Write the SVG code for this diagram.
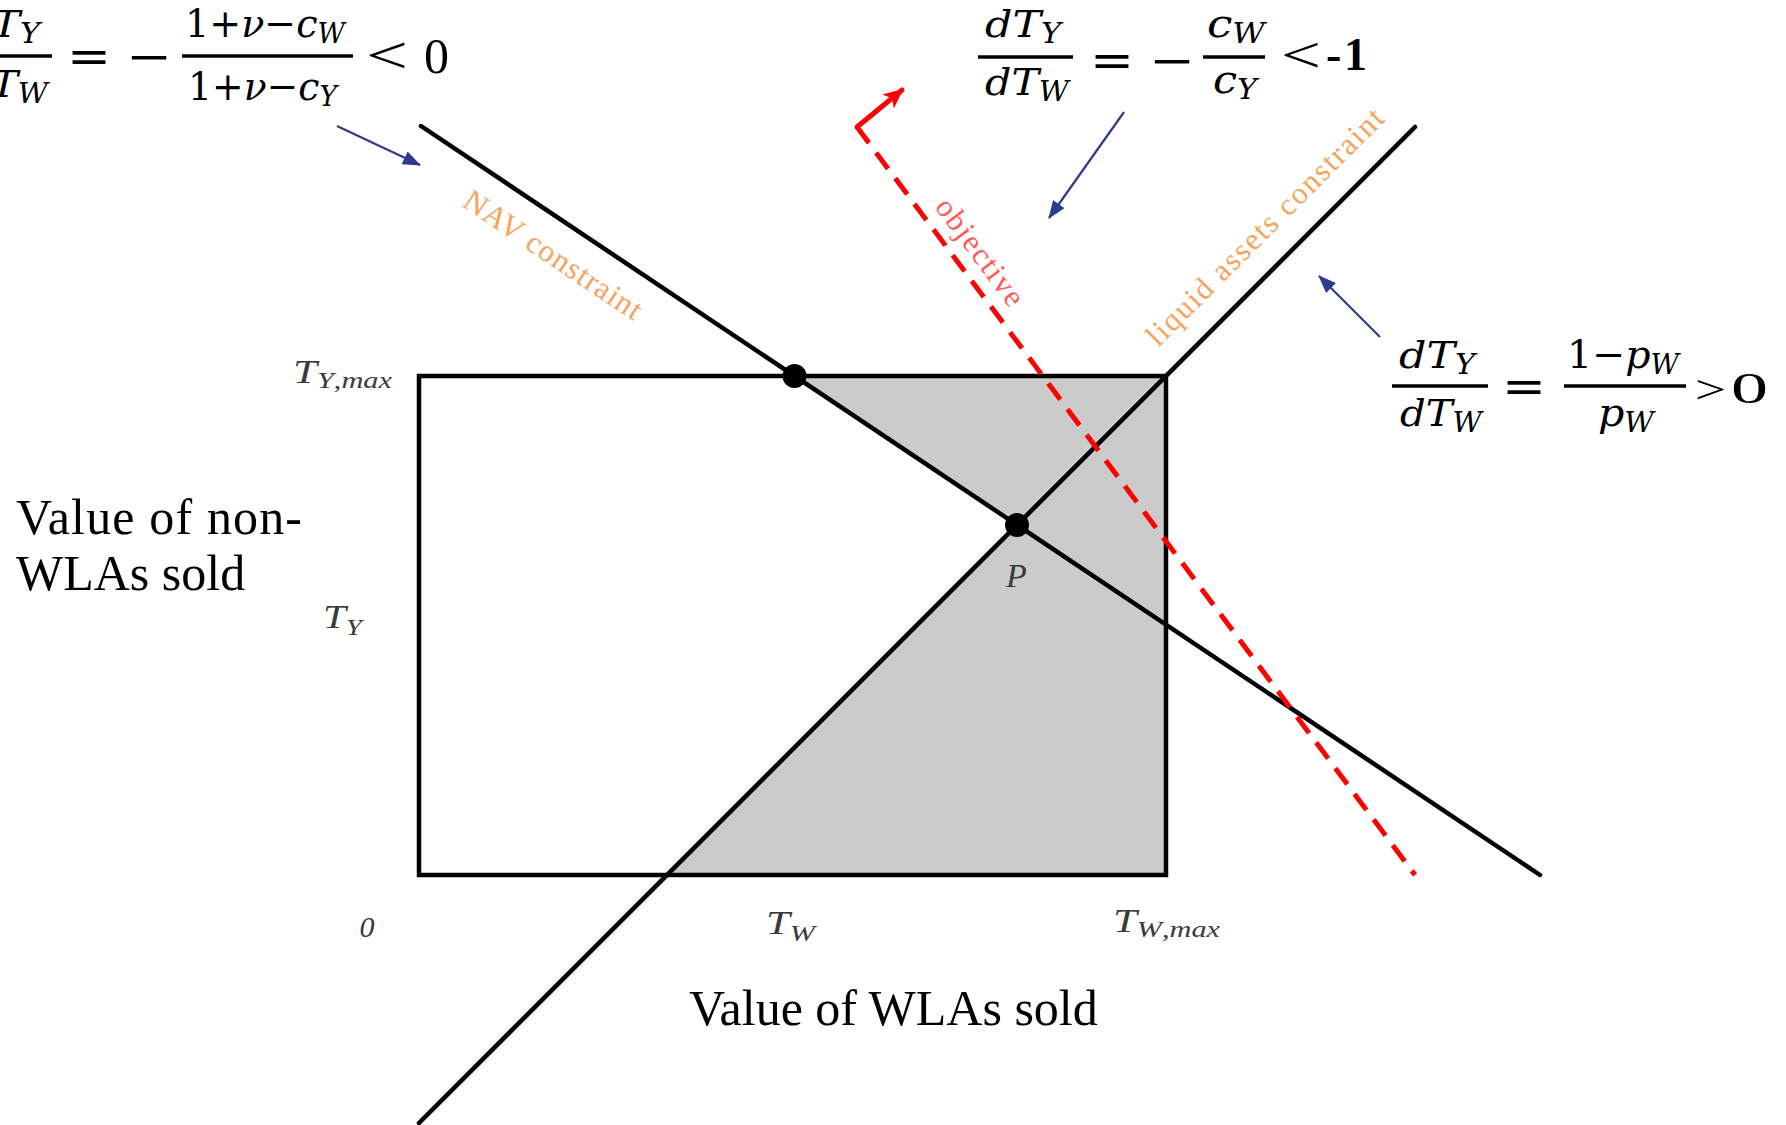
<svg xmlns="http://www.w3.org/2000/svg" width="1786" height="1125" viewBox="0 0 1786 1125">
<defs>
<style>
.ln{stroke:#000;stroke-width:4.5;fill:none;stroke-linecap:round}
.bar{stroke:#000;stroke-width:3.5}
.m{font-family:"DejaVu Serif","Liberation Serif",serif;font-style:italic;fill:#000}
.u{font-style:normal}
.op{font-family:"DejaVu Serif","Liberation Serif",serif;font-style:normal;fill:#000}
.ax{font-family:"Liberation Serif",serif;font-style:italic;fill:#3a3a3a}
.big{font-family:"Liberation Serif",serif;fill:#000;font-size:50px}
.or{font-family:"Liberation Serif",serif;fill:#F7A35C;font-size:31px}
.blue{stroke:#2E3A8C;stroke-width:2.2;fill:none;marker-end:url(#ab)}
</style>
<marker id="ab" markerUnits="userSpaceOnUse" markerWidth="20" markerHeight="14" refX="17" refY="7" orient="auto">
<path d="M0,0 L18,7 L0,14 Z" fill="#2E3A8C"/>
</marker>
<marker id="ar" markerUnits="userSpaceOnUse" markerWidth="22" markerHeight="20" refX="18" refY="10" orient="auto">
<path d="M0,1 L20,10 L0,19 L5,10 Z" fill="#FF0000"/>
</marker>
</defs>

<g id="feasible-region">
<polygon points="794.5,376 1166,376 1166,875 667,875 1017,525" fill="#CBCBCB"/>
<rect x="419" y="376" width="747" height="499" class="ln"/>
</g>

<g id="nav-constraint">
<line x1="421" y1="126" x2="1540" y2="875" class="ln"/>
<text class="or" transform="translate(553,255) rotate(33.8)" x="0" y="10" text-anchor="middle" textLength="208" lengthAdjust="spacing">NAV constraint</text>
</g>

<g id="liquid-assets-constraint">
<line x1="419" y1="1123" x2="1415" y2="127" class="ln"/>
<text class="or" transform="translate(1265,227) rotate(-45)" x="0" y="10" text-anchor="middle" textLength="322" lengthAdjust="spacing">liquid assets constraint</text>
</g>

<g id="objective">
<line x1="857" y1="127" x2="1415" y2="875" stroke="#FF0000" stroke-width="5" stroke-dasharray="20 12"/>
<line x1="857" y1="127" x2="902" y2="90" stroke="#FF0000" stroke-width="5" stroke-linecap="round" marker-end="url(#ar)"/>
<text font-family="Liberation Serif, serif" font-size="31" fill="#FF5A5A" transform="translate(980,252) rotate(53.3)" x="0" y="10" text-anchor="middle" textLength="127" lengthAdjust="spacing">objective</text>
</g>

<g id="points">
<circle cx="794.5" cy="376" r="12" fill="#000"/>
<circle cx="1017" cy="525" r="12" fill="#000"/>
<text class="ax" x="1006" y="587" font-size="34">P</text>
</g>

<g id="axis-labels">
<text class="ax" x="293" y="383" font-size="34" textLength="99" lengthAdjust="spacingAndGlyphs">T<tspan font-size="24" dy="5">Y</tspan><tspan font-size="24" font-style="normal">,</tspan><tspan font-size="24">max</tspan></text>
<text class="ax" x="323" y="628" font-size="34" textLength="39" lengthAdjust="spacingAndGlyphs">T<tspan font-size="24" dy="7">Y</tspan></text>
<text class="ax" x="367" y="937" font-size="30" font-style="normal" text-anchor="middle">0</text>
<text class="ax" x="766" y="934" font-size="34" textLength="49" lengthAdjust="spacingAndGlyphs">T<tspan font-size="24" dy="7">W</tspan></text>
<text class="ax" x="1113" y="932" font-size="34" textLength="107" lengthAdjust="spacingAndGlyphs">T<tspan font-size="24" dy="5">W</tspan><tspan font-size="24" font-style="normal">,</tspan><tspan font-size="24">max</tspan></text>
<text class="big" x="16" y="534" textLength="286" lengthAdjust="spacing">Value of non-</text>
<text class="big" x="16" y="590">WLAs sold</text>
<text class="big" x="689" y="1025">Value of WLAs sold</text>
</g>

<g id="eq-nav">
<line x1="-43" y1="56" x2="52" y2="56" class="bar"/>
<text class="m" x="-36" y="37" font-size="38" textLength="76" lengthAdjust="spacingAndGlyphs">dT<tspan font-size="27" dy="6">Y</tspan></text>
<text class="m" x="-36" y="97" font-size="38" textLength="84" lengthAdjust="spacingAndGlyphs">dT<tspan font-size="27" dy="6">W</tspan></text>
<text class="op" x="67" y="72" font-size="46" textLength="44" lengthAdjust="spacingAndGlyphs">=</text>
<text class="op" x="126" y="72" font-size="46" textLength="46" lengthAdjust="spacingAndGlyphs">−</text>
<line x1="182" y1="56" x2="353" y2="56" class="bar"/>
<text class="m" x="185" y="37" font-size="40" textLength="160" lengthAdjust="spacingAndGlyphs"><tspan class="u">1+</tspan>ν<tspan class="u">−</tspan>c<tspan font-size="28" dy="6">W</tspan></text>
<text class="m" x="188" y="100" font-size="40" textLength="149" lengthAdjust="spacingAndGlyphs"><tspan class="u">1+</tspan>ν<tspan class="u">−</tspan>c<tspan font-size="28" dy="6">Y</tspan></text>
<text font-family="Liberation Serif, serif" x="366" y="73" font-size="52" textLength="42" lengthAdjust="spacingAndGlyphs">&lt;</text>
<text font-family="Liberation Serif, serif" x="424" y="73" font-size="50">0</text>
</g>

<g id="eq-objective">
<line x1="978" y1="57" x2="1073" y2="57" class="bar"/>
<text class="m" x="985" y="37" font-size="38" textLength="76" lengthAdjust="spacingAndGlyphs">dT<tspan font-size="27" dy="6">Y</tspan></text>
<text class="m" x="985" y="95" font-size="38" textLength="84" lengthAdjust="spacingAndGlyphs">dT<tspan font-size="27" dy="6">W</tspan></text>
<text class="op" x="1090" y="76" font-size="46" textLength="44" lengthAdjust="spacingAndGlyphs">=</text>
<text class="op" x="1149" y="76" font-size="46" textLength="46" lengthAdjust="spacingAndGlyphs">−</text>
<line x1="1203" y1="57" x2="1265" y2="57" class="bar"/>
<text class="m" x="1207" y="37" font-size="40" textLength="58" lengthAdjust="spacingAndGlyphs">c<tspan font-size="28" dy="6">W</tspan></text>
<text class="m" x="1213" y="93" font-size="40" textLength="44" lengthAdjust="spacingAndGlyphs">c<tspan font-size="28" dy="6">Y</tspan></text>
<text font-family="Liberation Serif, serif" x="1281" y="72" font-size="50" textLength="40" lengthAdjust="spacingAndGlyphs">&lt;</text>
<text font-family="Liberation Serif, serif" font-weight="bold" font-size="46" x="1326" y="70" textLength="41" lengthAdjust="spacing">-1</text>
</g>

<g id="eq-liquid">
<line x1="1392" y1="386" x2="1488" y2="386" class="bar"/>
<text class="m" x="1399" y="368" font-size="38" textLength="76" lengthAdjust="spacingAndGlyphs">dT<tspan font-size="27" dy="6">Y</tspan></text>
<text class="m" x="1400" y="426" font-size="38" textLength="82" lengthAdjust="spacingAndGlyphs">dT<tspan font-size="27" dy="6">W</tspan></text>
<text class="op" x="1502" y="402" font-size="46" textLength="44" lengthAdjust="spacingAndGlyphs">=</text>
<line x1="1564" y1="386" x2="1686" y2="386" class="bar"/>
<text class="m" x="1567" y="368" font-size="40" textLength="112" lengthAdjust="spacingAndGlyphs"><tspan class="u">1−</tspan>p<tspan font-size="28" dy="6">W</tspan></text>
<text class="m" x="1598" y="426" font-size="40" textLength="56" lengthAdjust="spacingAndGlyphs">p<tspan font-size="28" dy="6">W</tspan></text>
<text font-family="Liberation Serif, serif" x="1695" y="403" font-size="40" textLength="31" lengthAdjust="spacingAndGlyphs">&gt;</text>
<text font-family="Liberation Serif, serif" font-size="44" x="1731" y="403" textLength="37" lengthAdjust="spacingAndGlyphs">0</text>
</g>

<g id="connectors">
<line x1="337" y1="126" x2="420" y2="165" class="blue"/>
<line x1="1124" y1="112" x2="1049" y2="218" class="blue"/>
<line x1="1380" y1="337" x2="1319" y2="276" class="blue"/>
</g>
</svg>
